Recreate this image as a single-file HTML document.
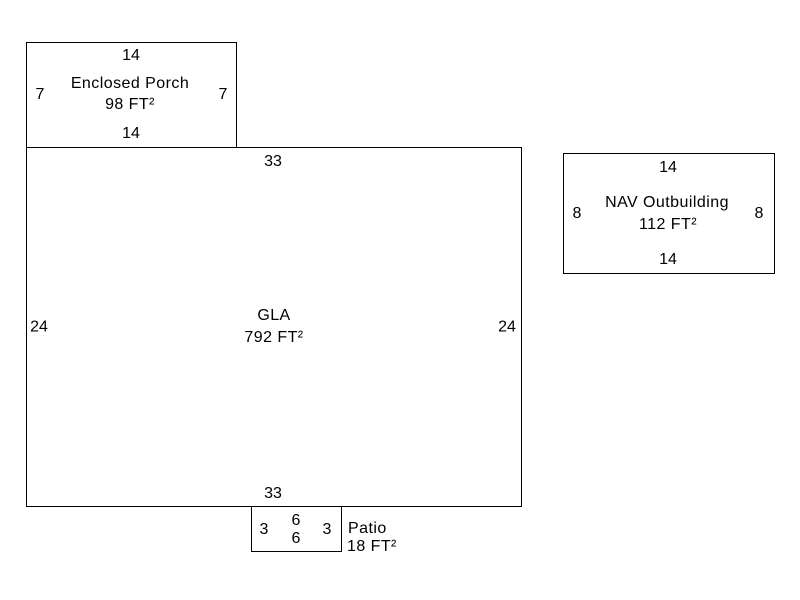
<!DOCTYPE html>
<html>
<head>
<meta charset="utf-8">
<style>
  html, body { margin:0; padding:0; background:#fff; }
  svg { display:block; }
  text { font-family: "Liberation Sans", Arial, sans-serif; font-size:16px; fill:#000; }
  .lbl { letter-spacing:0.45px; }
</style>
</head>
<body>
<svg width="800" height="600" viewBox="0 0 800 600" xmlns="http://www.w3.org/2000/svg">
  <rect x="0" y="0" width="800" height="600" fill="#fff"/>
  <g fill="none" stroke="#000" stroke-width="1">
    <rect x="26.5" y="42.5" width="210" height="105"/>
    <rect x="26.5" y="147.5" width="495" height="359"/>
    <rect x="251.5" y="506.5" width="90" height="45"/>
    <rect x="563.5" y="153.5" width="211" height="120"/>
  </g>

  <g text-anchor="middle">
    <!-- Enclosed Porch -->
    <text x="131" y="60">14</text>
    <text class="lbl" x="130" y="88">Enclosed Porch</text>
    <text class="lbl" x="130" y="109">98 FT²</text>
    <text x="131" y="138">14</text>
    <text x="40" y="99">7</text>
    <text x="223" y="99">7</text>

    <!-- GLA -->
    <text x="273" y="166">33</text>
    <text class="lbl" x="274" y="320">GLA</text>
    <text class="lbl" x="274" y="342">792 FT²</text>
    <text x="39" y="331.5">24</text>
    <text x="507" y="331.5">24</text>
    <text x="273" y="498">33</text>

    <!-- NAV Outbuilding -->
    <text x="668" y="172">14</text>
    <text class="lbl" x="667" y="207">NAV Outbuilding</text>
    <text class="lbl" x="668" y="229">112 FT²</text>
    <text x="577" y="218">8</text>
    <text x="759" y="218">8</text>
    <text x="668" y="264">14</text>

    <!-- Patio -->
    <text x="264" y="534">3</text>
    <text x="296" y="525">6</text>
    <text x="296" y="543">6</text>
    <text x="327" y="534">3</text>
  </g>
  <text class="lbl" x="348" y="533">Patio</text>
  <text class="lbl" x="347" y="551">18 FT²</text>
</svg>
</body>
</html>
